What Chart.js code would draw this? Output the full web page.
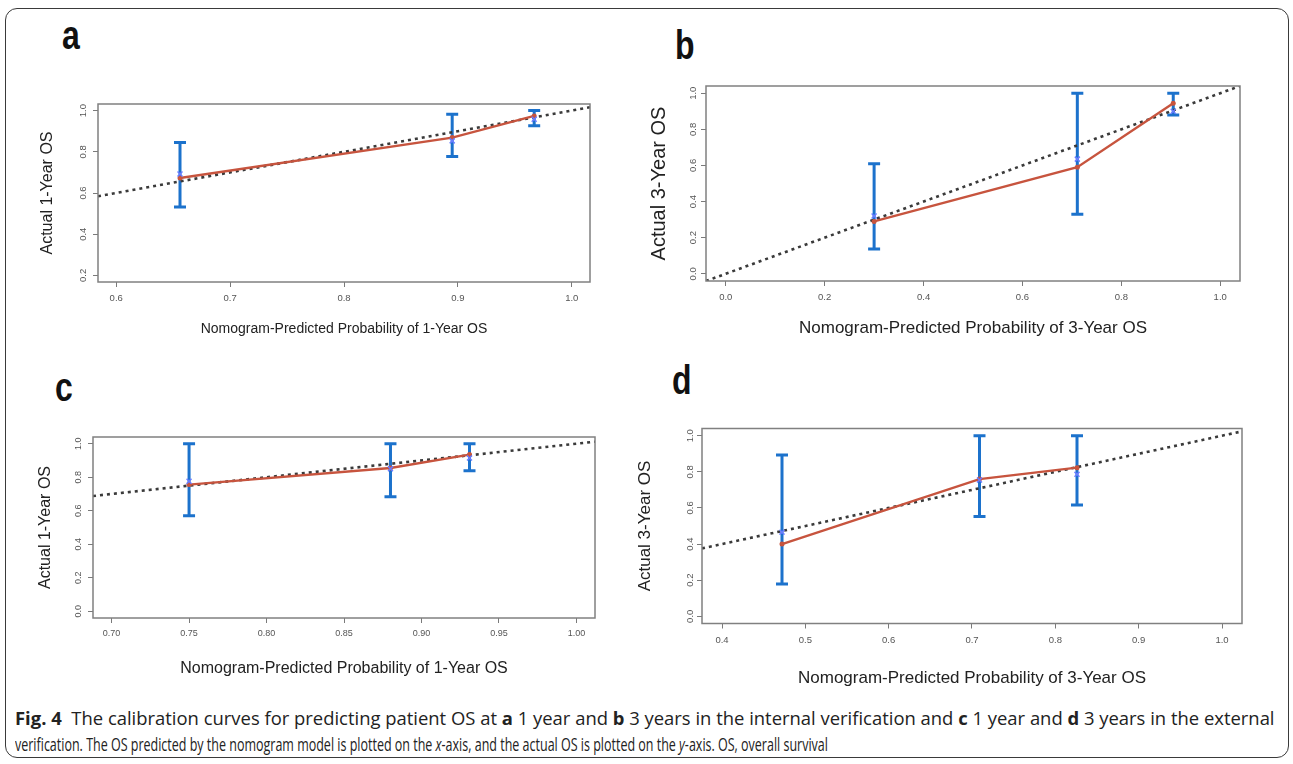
<!DOCTYPE html>
<html>
<head>
<meta charset="utf-8">
<script src="https://cdn.jsdelivr.net/npm/chart.js@4.4.1/dist/chart.umd.min.js"></script>
<style>
html, body { margin: 0; padding: 0; background: #fff; }
#page { position: relative; width: 1293px; height: 764px; overflow: hidden; }
#frame { position: absolute; left: 5px; top: 8px; width: 1282px; height: 748px; border: 1px solid #3a3a3a; border-radius: 12px; }
canvas { position: absolute; }
.tag { position: absolute; font: bold 40px "Liberation Sans", Arial, sans-serif; line-height: 40px; color: #111; transform: scaleX(0.8); transform-origin: left top; }
.cap { position: absolute; left: 15px; white-space: nowrap; font: 18px "Open Sans", "Noto Sans", sans-serif; line-height: 20px; color: #222; transform-origin: left center; display: inline-block; }
</style>
</head>
<body>
<div id="page">
  <div id="frame"></div>
  <div class="tag" style="left:62px;top:15px">a</div>
  <div class="tag" style="left:675px;top:25px">b</div>
  <div class="tag" style="left:55px;top:367px">c</div>
  <div class="tag" style="left:672px;top:360px">d</div>
  <canvas id="chart-a"></canvas>
  <canvas id="chart-b"></canvas>
  <canvas id="chart-c"></canvas>
  <canvas id="chart-d"></canvas>
  <div class="cap" id="cap1" style="top:708px"><b>Fig. 4</b>&nbsp; The calibration curves for predicting patient OS at <b>a</b> 1 year and <b>b</b> 3 years in the internal verification and <b>c</b> 1 year and <b>d</b> 3 years in the external</div>
  <div class="cap" id="cap2" style="top:734px">verification. The OS predicted by the nomogram model is plotted on the <i>x</i>-axis, and the actual OS is plotted on the <i>y</i>-axis. OS, overall survival</div>
</div>
<script>
// a: internal verification, 1-year OS
var aXTicks = ['0.6', '0.7', '0.8', '0.9', '1.0'];
var aYTicks = ['0.2', '0.4', '0.6', '0.8', '1.0'];
var aPredicted = [0.656, 0.895, 0.967];
var aObserved = [0.673, 0.869, 0.974];
var aCorrected = [0.692, 0.853, 0.958];
var aLower = [0.532, 0.777, 0.927];
var aUpper = [0.845, 0.982, 1.0];

// b: internal verification, 3-year OS
var bXTicks = ['0.0', '0.2', '0.4', '0.6', '0.8', '1.0'];
var bYTicks = ['0.0', '0.2', '0.4', '0.6', '0.8', '1.0'];
var bPredicted = [0.300, 0.711, 0.905];
var bObserved = [0.290, 0.590, 0.945];
var bCorrected = [0.320, 0.635, 0.900];
var bLower = [0.137, 0.330, 0.880];
var bUpper = [0.609, 1.0, 1.0];

// c: external verification, 1-year OS
var cXTicks = ['0.70', '0.75', '0.80', '0.85', '0.90', '0.95', '1.00'];
var cYTicks = ['0.0', '0.2', '0.4', '0.6', '0.8', '1.0'];
var cPredicted = [0.750, 0.880, 0.931];
var cObserved = [0.756, 0.855, 0.935];
var cCorrected = [0.776, 0.850, 0.915];
var cLower = [0.570, 0.683, 0.838];
var cUpper = [1.0, 1.0, 1.0];

// d: external verification, 3-year OS
var dXTicks = ['0.4', '0.5', '0.6', '0.7', '0.8', '0.9', '1.0'];
var dYTicks = ['0.0', '0.2', '0.4', '0.6', '0.8', '1.0'];
var dPredicted = [0.472, 0.709, 0.826];
var dObserved = [0.400, 0.760, 0.823];
var dCorrected = [0.466, 0.755, 0.786];
var dLower = [0.179, 0.552, 0.617];
var dUpper = [0.893, 1.0, 1.0];

var FONT = '"Liberation Sans", Arial, sans-serif';

var panels = [
    {
        id: 'chart-a', canvas: [20, 75, 600, 275], box: [98, 104, 590, 282],
        xTicks: aXTicks, yTicks: aYTicks, pred: aPredicted, obs: aObserved, km: aCorrected, lower: aLower, upper: aUpper,
        xTitle: 'Nomogram-Predicted Probability of 1-Year OS', yTitle: 'Actual 1-Year OS',
        xTitleSize: 14, xTitleY: 329, yTitleSize: 16, yTitleX: 48, tickSize: 9.5, xPad: 7, yGap: 6.7
    },
    {
        id: 'chart-b', canvas: [630, 55, 650, 295], box: [706, 86, 1240, 281],
        xTicks: bXTicks, yTicks: bYTicks, pred: bPredicted, obs: bObserved, km: bCorrected, lower: bLower, upper: bUpper,
        xTitle: 'Nomogram-Predicted Probability of 3-Year OS', yTitle: 'Actual 3-Year OS',
        xTitleSize: 17, xTitleY: 328, yTitleSize: 20, yTitleX: 659, tickSize: 9.5, xPad: 7, yGap: 5.4
    },
    {
        id: 'chart-c', canvas: [20, 405, 600, 290], box: [93, 437, 595, 618],
        xTicks: cXTicks, yTicks: cYTicks, pred: cPredicted, obs: cObserved, km: cCorrected, lower: cLower, upper: cUpper,
        xTitle: 'Nomogram-Predicted Probability of 1-Year OS', yTitle: 'Actual 1-Year OS',
        xTitleSize: 16, xTitleY: 669, yTitleSize: 16, yTitleX: 46, tickSize: 9, xPad: 6, yGap: 7
    },
    {
        id: 'chart-d', canvas: [630, 395, 650, 310], box: [702, 428.5, 1242, 623.5],
        xTicks: dXTicks, yTicks: dYTicks, pred: dPredicted, obs: dObserved, km: dCorrected, lower: dLower, upper: dUpper,
        xTitle: 'Nomogram-Predicted Probability of 3-Year OS', yTitle: 'Actual 3-Year OS',
        xTitleSize: 17, xTitleY: 678, yTitleSize: 17, yTitleX: 645, tickSize: 9.5, xPad: 7.5, yGap: 4
    }
];

// error bars behind the curves, frame box and rotated y labels on top
function calibPlugin(p) {
    return {
        id: 'calib',
        beforeDatasetsDraw: function(chart) {
            var ctx = chart.ctx, xs = chart.scales.x, ys = chart.scales.y;
            ctx.save();
            ctx.strokeStyle = 'rgb(28,114,204)';
            ctx.lineWidth = 3;
            p.pred.forEach(function(x, i) {
                var px = xs.getPixelForValue(x);
                var lo = ys.getPixelForValue(p.lower[i]);
                var hi = ys.getPixelForValue(p.upper[i]);
                ctx.beginPath();
                ctx.moveTo(px, lo); ctx.lineTo(px, hi);
                ctx.moveTo(px - 6, lo); ctx.lineTo(px + 6, lo);
                ctx.moveTo(px - 6, hi); ctx.lineTo(px + 6, hi);
                ctx.stroke();
            });
            ctx.restore();
        },
        afterDraw: function(chart) {
            var ctx = chart.ctx, a = chart.chartArea, ys = chart.scales.y;
            ctx.save();
            ctx.strokeStyle = '#808080';
            ctx.lineWidth = 1.5;
            ctx.strokeRect(a.left, a.top, a.right - a.left, a.bottom - a.top);
            ctx.fillStyle = '#555';
            ctx.font = p.tickSize + 'px ' + FONT;
            ctx.textAlign = 'center';
            ctx.textBaseline = 'alphabetic';
            ys.ticks.forEach(function(t, i) {
                var py = ys.getPixelForValue(t.value);
                ctx.save();
                ctx.translate(a.left - 5 - p.yGap, py);
                ctx.rotate(-Math.PI / 2);
                ctx.fillText(p.yTicks[i], 0, 0);
                ctx.restore();
            });
            ctx.restore();
        }
    };
}

function makeChart(p) {
    var cv = document.getElementById(p.id);
    var cx = p.canvas[0], cy = p.canvas[1], cw = p.canvas[2], ch = p.canvas[3];
    cv.width = cw; cv.height = ch;
    cv.style.left = cx + 'px'; cv.style.top = cy + 'px';
    cv.style.width = cw + 'px'; cv.style.height = ch + 'px';
    var L = p.box[0] - cx, T = p.box[1] - cy, R = p.box[2] - cx, B = p.box[3] - cy;

    var xv = p.xTicks.map(Number), yv = p.yTicks.map(Number);
    var xExt = (xv[xv.length - 1] - xv[0]) * 0.04;
    var yExt = (yv[yv.length - 1] - yv[0]) * 0.04;
    var xMin = xv[0] - xExt, xMax = xv[xv.length - 1] + xExt;
    var yMin = yv[0] - yExt, yMax = yv[yv.length - 1] + yExt;

    var ideal = [xMin, xMax].map(function(v) { return {x: v, y: v}; });
    var curve = p.pred.map(function(x, i) { return {x: x, y: p.obs[i]}; });
    var marks = p.pred.map(function(x, i) { return {x: x, y: p.km[i]}; });

    return new Chart(cv.getContext('2d'), {
        type: 'scatter',
        data: {
            datasets: [
                {
                    type: 'line', label: 'Ideal', data: ideal,
                    borderColor: '#3a3a3a', borderWidth: 2.6, borderDash: [3, 4],
                    pointRadius: 0, order: 3
                },
                {
                    type: 'line', label: 'Nomogram', data: curve,
                    borderColor: 'rgb(199,84,62)', borderWidth: 2.4,
                    pointRadius: 2.5, pointBackgroundColor: 'rgb(199,84,62)', pointBorderWidth: 0, order: 2
                },
                {
                    type: 'scatter', label: 'Observed', data: marks,
                    pointStyle: 'crossRot', pointRadius: 3.5,
                    borderColor: 'rgb(105,125,255)', borderWidth: 1.5, order: 1
                }
            ]
        },
        options: {
            responsive: false,
            animation: false,
            events: [],
            layout: { padding: { left: 0, top: T, right: cw - R, bottom: 0 } },
            plugins: { legend: { display: false }, tooltip: { enabled: false } },
            scales: {
                x: {
                    type: 'linear', min: xMin, max: xMax, bounds: 'data',
                    afterBuildTicks: function(s) { s.ticks = xv.map(function(v) { return {value: v}; }); },
                    afterFit: function(s) { s.height = ch - B; },
                    ticks: {
                        autoSkip: false, maxRotation: 0, padding: p.xPad, color: '#555',
                        font: { size: p.tickSize, family: FONT, lineHeight: 1 },
                        callback: function(v, i) { return p.xTicks[i]; }
                    },
                    grid: { drawOnChartArea: false, drawTicks: true, tickLength: 5, color: '#7a7a7a' },
                    border: { display: false },
                    title: {
                        display: true, text: p.xTitle, color: '#222',
                        font: { size: p.xTitleSize, family: FONT, lineHeight: 1 },
                        padding: { top: 0, bottom: ch - (p.xTitleY - cy) - p.xTitleSize / 2 }
                    }
                },
                y: {
                    type: 'linear', min: yMin, max: yMax, bounds: 'data',
                    afterBuildTicks: function(s) { s.ticks = yv.map(function(v) { return {value: v}; }); },
                    afterFit: function(s) { s.width = L; },
                    ticks: { display: false },
                    grid: { drawOnChartArea: false, drawTicks: true, tickLength: 5, color: '#7a7a7a' },
                    border: { display: false },
                    title: {
                        display: true, text: p.yTitle, color: '#222',
                        font: { size: p.yTitleSize, family: FONT, lineHeight: 1 },
                        padding: { top: (p.yTitleX - cx) - p.yTitleSize / 2, bottom: 0 }
                    }
                }
            }
        },
        plugins: [calibPlugin(p)]
    });
}

// each caption line is squeezed or stretched to the width it takes in the figure
function fitCaption(id, width) {
    var el = document.getElementById(id);
    el.style.transform = 'scaleX(' + (width / el.offsetWidth) + ')';
}

window.onload = function() {
    panels.forEach(makeChart);
    fitCaption('cap1', 1260);
    fitCaption('cap2', 813);
};
</script>
</body>
</html>
